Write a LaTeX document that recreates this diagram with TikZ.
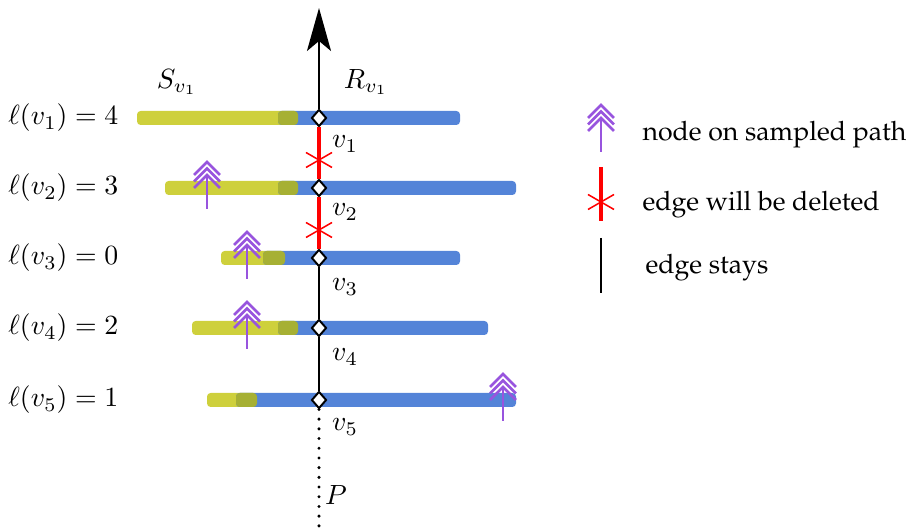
\documentclass[tikz,border=0pt]{standalone}
\usepackage[T1]{fontenc}
\renewcommand{\rmdefault}{ppl}
\usetikzlibrary{arrows.meta,shapes.geometric}

\definecolor{barYellow}{RGB}{206,208,60}
\definecolor{barOlive}{RGB}{166,176,52}
\definecolor{barBlue}{RGB}{84,132,216}
\definecolor{sampleViolet}{RGB}{152,84,222}
\definecolor{delRed}{RGB}{255,0,0}

\tikzset{
  bar/.style={rounded corners=1.3pt, draw=none},
  vtx/.style={diamond, draw=black, fill=white, line width=0.7pt, inner sep=0pt,
              minimum width=15*0.36pt, minimum height=17*0.36pt},
  stays/.style={line width=0.8pt, black},
  deleted/.style={line width=1.2pt, delRed},
  starline/.style={line width=0.55pt, delRed},
  markline/.style={line width=0.9pt, sampleViolet},
  lab/.style={inner sep=0pt},
  legtext/.style={inner sep=0pt, anchor=base west, font=\fontsize{9.6}{12}\selectfont},
  sampled/.pic={
    \draw[markline, line width=1pt] (0,21) -- (0,-13);
    \foreach \t in {-26,-19.5,-13}
      \draw[markline] (-13,\t+13) -- (0,\t) -- (13,\t+13);
  },
  cross/.pic={
    \draw[starline] (-13,-7.5) -- (13,7.5);
    \draw[starline] (-13,7.5) -- (13,-7.5);
  }
}

% one interval row: left interval (yellow), right interval (blue), overlap (olive)
\newcommand{\intervalrow}[5]{%
  \fill[bar, barYellow] (#2,#1-7) rectangle (#4,#1+7);
  \fill[bar, barBlue]   (#3,#1-7) rectangle (#5,#1+7);
  \fill[bar, barOlive]  (#3,#1-7) rectangle (#4,#1+7);
}

\begin{document}
\begin{tikzpicture}[x=0.36pt,y=-0.36pt]
\useasboundingbox (0,0) rectangle (909,532);

% intervals  {y}{yellow start}{overlap start}{overlap end}{blue end}
\intervalrow{118}{137}{278}{298}{460}
\intervalrow{188}{165}{278}{298}{516}
\intervalrow{258}{221}{263}{285}{460}
\intervalrow{328}{192}{278}{298}{488}
\intervalrow{400}{207}{236}{257}{516}

% path vertices
\node[vtx] (v1) at (319,118) {};
\node[vtx] (v2) at (319,188) {};
\node[vtx] (v3) at (319,258) {};
\node[vtx] (v4) at (319,328) {};
\node[vtx] (v5) at (319,400) {};
\coordinate (top) at (319,8);
\coordinate (bot) at (319,532);

% edges of the path
\draw[stays, -{Stealth[length=43*0.36pt, width=24*0.36pt, inset=10*0.36pt]}] (v1) -- (top);
\draw[deleted] (v1) -- (v2);
\draw[deleted] (v2) -- (v3);
\draw[stays] (v3) -- (v4);
\draw[stays] (v4) -- (v5);
\draw[stays, line cap=round, dash pattern=on 0pt off 9.7*0.36pt, line width=1.2pt] (v5) -- (bot);

\pic at (319,160) {cross};
\pic at (319,230) {cross};

% sampled nodes
\pic at (207,188) {sampled};
\pic at (247,258) {sampled};
\pic at (247,328) {sampled};
\pic at (503,400) {sampled};

% labels
\node[lab] (S) at (177,82) {$S_{v_1}$};
\node[lab] (R) at (366,82) {$R_{v_1}$};
\node[lab] (l1) at (345,144) {$v_1$};
\node[lab] (l2) at (345,212) {$v_2$};
\node[lab] (l3) at (345,287) {$v_3$};
\node[lab] (l4) at (345,357) {$v_4$};
\node[lab] (l5) at (345,427) {$v_5$};
\node[lab] (P) at (336,495) {$P$};

\node[lab, anchor=east] (d1) at (119,118) {$\ell(v_1) = 4$};
\node[lab, anchor=east] (d2) at (119,188) {$\ell(v_2) = 3$};
\node[lab, anchor=east] (d3) at (119,258) {$\ell(v_3) = 0$};
\node[lab, anchor=east] (d4) at (119,328) {$\ell(v_4) = 2$};
\node[lab, anchor=east] (d5) at (119,400) {$\ell(v_5) = 1$};

% legend
\pic at (601,131) {sampled};
\node[legtext] (t1) at (642,141) {node on sampled path};

\coordinate (redA) at (601,167);
\coordinate (redB) at (601,221);
\draw[deleted] (redA) -- (redB);
\pic at (601,202) {cross};
\node[legtext] (t2) at (642,211) {edge will be deleted};

\coordinate (blkA) at (601,238);
\coordinate (blkB) at (601,293);
\draw[stays, line width=1pt] (blkA) -- (blkB);
\node[legtext] (t3) at (645,274) {edge stays};
\end{tikzpicture}
\end{document}
